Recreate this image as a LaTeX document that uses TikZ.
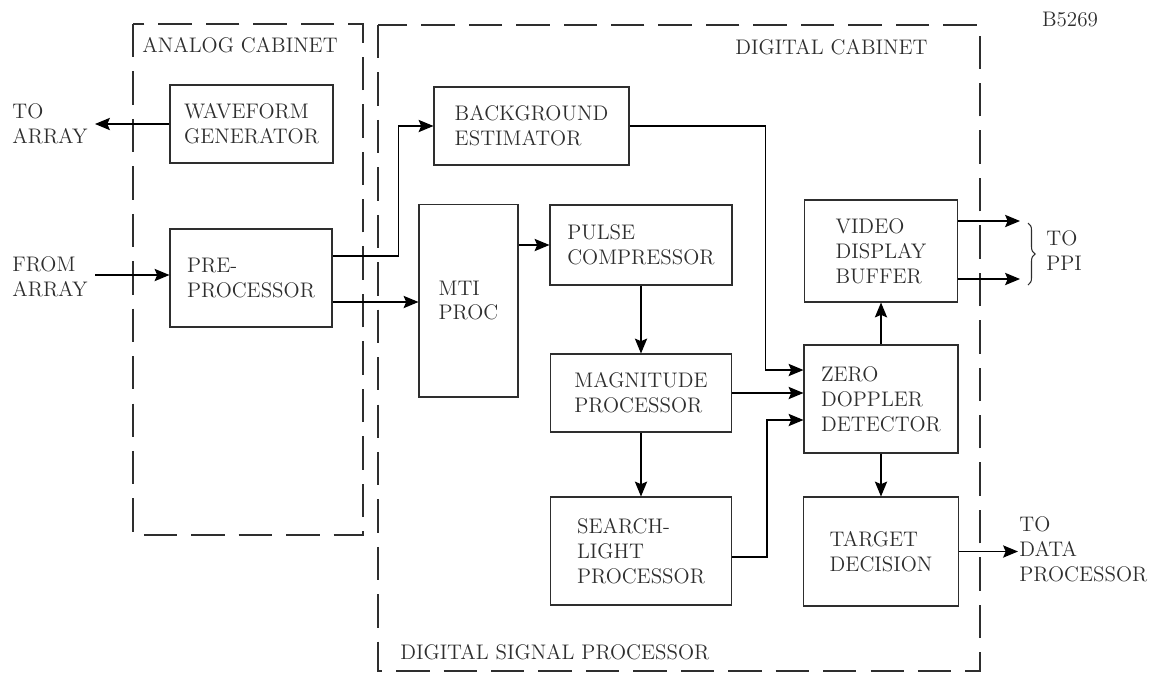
\documentclass[tikz,border=0pt]{standalone}
\usepackage{tikz}
\usetikzlibrary{arrows.meta,decorations.pathreplacing}
\definecolor{ink}{gray}{0.18}
\tikzset{
  blk/.style={draw=ink, text=ink, align=left, inner sep=2pt, line width=0.6pt},
  cab/.style={draw=ink, line width=0.6pt, dash pattern=on 19pt off 8pt},
  lbl/.style={text=ink, align=left, inner sep=1pt},
}

\begin{document}
\begin{tikzpicture}[x=0.02cm, y=-0.02cm, >={Stealth[length=8.5pt,width=7pt,inset=1.5pt]}, line width=0.7pt, font=\fontsize{12}{14.2}\selectfont]
  \useasboundingbox (0,0) rectangle (1154,674);
  % cabinets
  \draw[cab] (133,24) rectangle (363,535);
  \draw[cab] (378,25) rectangle (980,671);
  \node[lbl, anchor=west] (analog) at (140,45) {ANALOG CABINET};
  \node[lbl, anchor=west] (digital) at (733,47) {DIGITAL CABINET};
  \node[lbl, anchor=west] (dsp) at (398,652) {DIGITAL SIGNAL PROCESSOR};
  \node[lbl] (fig) at (1070,20) {B5269};

  % blocks
  \node[blk, minimum width=3.26cm, minimum height=1.56cm] (wave) at (251.5,124) {WAVEFORM\\GENERATOR};
  \node[blk, minimum width=3.24cm, minimum height=1.96cm] (pre) at (251,278) {PRE-\\PROCESSOR};
  \node[blk, minimum width=3.9cm, minimum height=1.56cm] (bg) at (531.5,126) {BACKGROUND\\ESTIMATOR};
  \node[blk, minimum width=1.98cm, minimum height=3.86cm] (mti) at (468.5,300.5) {MTI\\PROC};
  \node[blk, minimum width=3.64cm, minimum height=1.6cm] (pulse) at (641,245) {PULSE\\COMPRESSOR};
  \node[blk, minimum width=3.62cm, minimum height=1.56cm] (mag) at (641,393) {MAGNITUDE\\PROCESSOR};
  \node[blk, minimum width=3.62cm, minimum height=2.16cm] (sl) at (641,551) {SEARCH-\\LIGHT\\PROCESSOR};
  \node[blk, minimum width=3.06cm, minimum height=2.04cm] (vdb) at (881,251) {VIDEO\\DISPLAY\\BUFFER};
  \node[blk, minimum width=3.08cm, minimum height=2.16cm] (zdd) at (881,399) {ZERO\\DOPPLER\\DETECTOR};
  \node[blk, minimum width=3.1cm, minimum height=2.18cm] (tgt) at (881,551.5) {TARGET\\DECISION};

  % outside ends
  \node[lbl, anchor=west] (toarr) at (10,124) {TO\\ARRAY};
  \node[lbl, anchor=west] (fromarr) at (10,277) {FROM\\ARRAY};
  \node[lbl, anchor=west] (toppi) at (1044,251) {TO\\PPI};
  \node[lbl, anchor=west] (todp) at (1017,549) {TO\\DATA\\PROCESSOR};
  \coordinate (ta) at (95,124);
  \coordinate (fa) at (95,275);
  \coordinate (ppi1) at (1020,221);
  \coordinate (ppi2) at (1020,279);
  \coordinate (dp) at (1018,551.5);

  % connectors
  \draw[->] (wave.west) -- (ta);
  \draw[->] (fa) -- (fa -| pre.west);
  \draw[->] ([yshift=.44cm]pre.east) -- ++(66,0) |- (bg.west);
  \draw[->] ([yshift=-.48cm]pre.east) coordinate (p2) -- (p2 -| mti.west);
  \draw[->] (mti.east |- pulse.west) -- (pulse.west);
  \draw[->] (bg.east) -- ++(136,0) |- ([yshift=.58cm]zdd.west);
  \draw[->] (pulse.south) -- (mag.north);
  \draw[->] (mag.east) -- (mag.east -| zdd.west);
  \draw[->] (mag.south) -- (sl.north);
  \draw[->] ([yshift=-.12cm]sl.east) -- ++(35,0) |- ([yshift=-.42cm]zdd.west);
  \draw[->] (zdd.north) -- (vdb.south);
  \draw[->] (zdd.south) -- (tgt.north);
  \draw[->] (vdb.east |- ppi1) -- (ppi1);
  \draw[->] (vdb.east |- ppi2) -- (ppi2);
  \draw[->] (tgt.east) -- (dp);
  \draw[ink, line width=0.6pt, decorate, decoration={brace, amplitude=4pt}] (1028,223) -- (1028,285);
\end{tikzpicture}
\end{document}
